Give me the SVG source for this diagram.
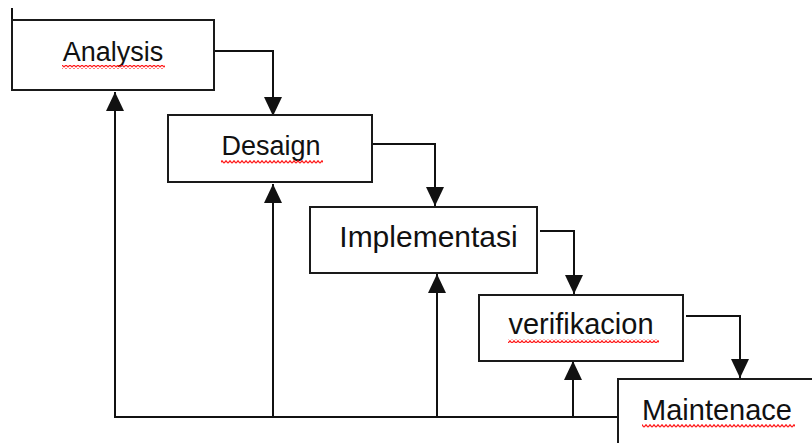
<svg xmlns="http://www.w3.org/2000/svg" width="812" height="443" viewBox="0 0 812 443">
  <style>
    .box { fill: #ffffff; stroke: #1a1a1a; stroke-width: 2; }
    .lbl { font-family: "Liberation Sans", Arial, sans-serif; fill: #111111; text-anchor: middle; }
    .conn { fill: none; stroke: #111111; stroke-width: 2; }
    .squig { fill: url(#wave); }
  </style>
  <defs>
    <marker id="arrow" markerUnits="userSpaceOnUse" markerWidth="19" markerHeight="18" viewBox="0 0 19 18" refX="19" refY="9" orient="auto">
      <path d="M0,0 L19,9 L0,18 Z" fill="#111111"/>
    </marker>
    <pattern id="wave" patternUnits="userSpaceOnUse" width="4" height="4">
      <polyline points="0,3.2 2,0.8 4,3.2" fill="none" stroke="#ff1a1a" stroke-width="1.3"/>
    </pattern>
  </defs>

  <rect width="812" height="443" fill="#ffffff"/>

  <g id="connectors">
    <line class="conn" x1="12" y1="8" x2="12" y2="21"/>
    <path class="conn" d="M214,51 H273 V116" marker-end="url(#arrow)"/>
    <path class="conn" d="M372,144 H435 V206" marker-end="url(#arrow)"/>
    <path class="conn" d="M540,231 H574 V294" marker-end="url(#arrow)"/>
    <path class="conn" d="M686,316 H740 V378" marker-end="url(#arrow)"/>
    <path class="conn" d="M114,417 H618"/>
    <path class="conn" d="M115,417 V92" marker-end="url(#arrow)"/>
    <path class="conn" d="M273,417 V184" marker-end="url(#arrow)"/>
    <path class="conn" d="M437,417 V274" marker-end="url(#arrow)"/>
    <path class="conn" d="M573,417 V361" marker-end="url(#arrow)"/>
  </g>

  <g id="analysis">
    <rect class="box" x="12" y="20" width="202" height="70"/>
    <text class="lbl" x="113" y="61" font-size="27">Analysis</text>
    <rect class="squig" x="62" y="65" width="103" height="4"/>
  </g>

  <g id="desaign">
    <rect class="box" x="168" y="115" width="204" height="67"/>
    <text class="lbl" x="271" y="155" font-size="27">Desaign</text>
    <rect class="squig" x="221" y="160" width="102" height="4"/>
  </g>

  <g id="implementasi">
    <rect class="box" x="310" y="207" width="227" height="66"/>
    <text class="lbl" x="428.5" y="247" font-size="30">Implementasi</text>
  </g>

  <g id="verifikacion">
    <rect class="box" x="479" y="295" width="204" height="66"/>
    <text class="lbl" x="581" y="334" font-size="29">verifikacion</text>
    <rect class="squig" x="508" y="339" width="151" height="4"/>
  </g>

  <g id="maintenace">
    <rect class="box" x="618" y="379" width="300" height="100"/>
    <text class="lbl" x="717" y="420" font-size="29">Maintenace</text>
    <rect class="squig" x="642" y="424" width="153" height="4"/>
  </g>
</svg>
